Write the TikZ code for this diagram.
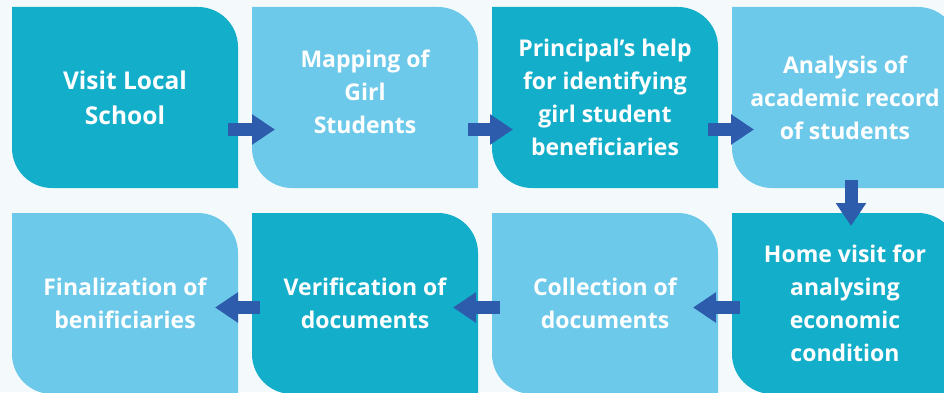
\documentclass[tikz,border=0pt]{standalone}
\usepackage{fontspec}
\setmainfont{Open Sans}
\usetikzlibrary{positioning,arrows.meta}
\definecolor{tealdark}{HTML}{13AEC9}
\definecolor{teallight}{HTML}{6DC9EA}
\definecolor{pagebg}{HTML}{F4FAFB}
\definecolor{arrowblue}{HTML}{2E5CAD}
\tikzset{
  leaf/.style={minimum width=226pt, minimum height=181pt, inner sep=0pt, outer sep=0pt,
    align=center, text=white, font=\fontsize{23}{33}\selectfont\bfseries,
    path picture={
      \fill[#1] (path picture bounding box.north west)
        -- ([xshift=-40pt]path picture bounding box.north east)
        arc[start angle=90, end angle=0, radius=40pt]
        -- (path picture bounding box.south east)
        -- ([xshift=40pt]path picture bounding box.south west)
        arc[start angle=270, end angle=180, radius=40pt]
        -- cycle;}},
  flow/.style={arrowblue, line width=13pt, -{Triangle[length=23pt, width=29pt]}}
}
\begin{document}
\begin{tikzpicture}[x=1pt, y=1pt]
	\fill[pagebg] (0,0) rectangle (944,392);
	\useasboundingbox (0,0) rectangle (944,392);
	% top row, left to right
	\node[leaf=tealdark, font=\fontsize{24.5}{35}\selectfont\bfseries] (visit) at (125,294.5) {Visit Local\\School};
	\node[leaf=teallight, right=14pt of visit] (mapping) {Mapping of\\Girl\\Students\\[-22pt]};
	\node[leaf=tealdark, right=14pt of mapping] (principal) {Principal’s help\\for identifying\\girl student\\beneficiaries};
	\node[leaf=teallight, right=14pt of principal] (analysis) {Analysis of\\academic record\\of students};
	% bottom row, right to left
	\node[leaf=tealdark, below=25pt of analysis] (home) {Home visit for\\analysing\\economic\\condition};
	\node[leaf=teallight, left=14pt of home] (collection) {Collection of\\documents};
	\node[leaf=tealdark, left=14pt of collection] (verification) {Verification of\\documents};
	\node[leaf=teallight, left=14pt of verification] (final) {Finalization of\\benificiaries};
	% arrows
	\draw[flow] ([xshift=-10pt, yshift=-32pt]visit.east) -- ([xshift=23pt, yshift=-32pt]mapping.west);
	\draw[flow] ([xshift=-10pt, yshift=-32pt]mapping.east) -- ([xshift=21pt, yshift=-32pt]principal.west);
	\draw[flow] ([xshift=-10pt, yshift=-32pt]principal.east) -- ([xshift=22pt, yshift=-32pt]analysis.west);
	\draw[flow] ([xshift=6pt, yshift=8pt]analysis.south) -- ([xshift=6pt, yshift=-13pt]home.north);
	\draw[flow] ([xshift=8pt, yshift=-4pt]home.west) -- ([xshift=-25pt, yshift=-4pt]collection.east);
	\draw[flow] ([xshift=8pt, yshift=-4pt]collection.west) -- ([xshift=-25pt, yshift=-4pt]verification.east);
	\draw[flow] ([xshift=8pt, yshift=-4pt]verification.west) -- ([xshift=-23pt, yshift=-4pt]final.east);
\end{tikzpicture}
\end{document}
